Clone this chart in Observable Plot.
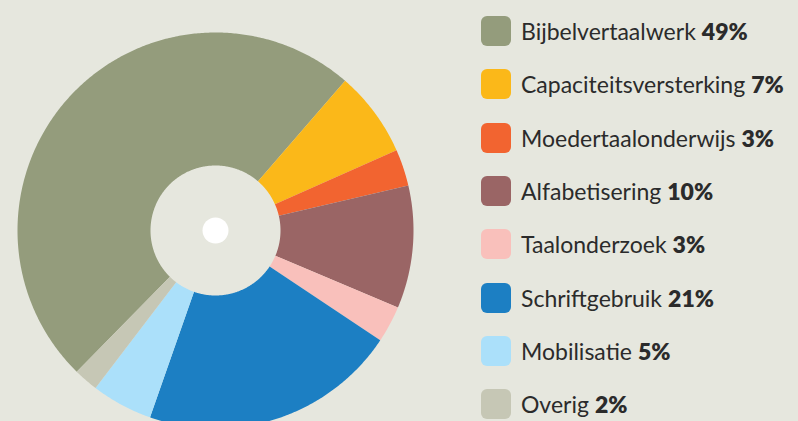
<!DOCTYPE html>
<html>
<head>
<meta charset="utf-8">
<script src="https://cdn.jsdelivr.net/npm/d3@7"></script>
<script src="https://cdn.jsdelivr.net/npm/@observablehq/plot@0.6"></script>
<style>
  html, body { margin: 0; padding: 0; background: #e6e7de; overflow: hidden; }
  #wrap { position: relative; width: 798px; height: 421px; overflow: hidden; background: #e6e7de; }
  #chart { position: absolute; left: 0; top: 0; }
  .item { position: absolute; left: 481px; height: 30px; display: flex; align-items: center; white-space: nowrap;
          font-family: Lato, "Noto Sans", sans-serif; font-size: 23px; color: #2b2b2b; }
  .sw { width: 30px; height: 30px; border-radius: 6px; margin-right: 10px; flex: none; }
  .item b { font-weight: 800; margin-left: 6px; }
</style>
</head>
<body>
<div id="wrap"><div id="chart"></div><div id="legend"></div></div>
<script>
const categories = ["Bijbelvertaalwerk", "Capaciteitsversterking", "Moedertaalonderwijs", "Alfabetisering", "Taalonderzoek", "Schriftgebruik", "Mobilisatie", "Overig"];
const values = [49, 7, 3, 10, 3, 21, 5, 2];
const colors = ["#949c7c", "#fbb819", "#f26430", "#9a6565", "#f9c0bb", "#1c7fc3", "#abe0fa", "#c6c7b5"];
const labels = ["49%", "7%", "3%", "10%", "3%", "21%", "5%", "2%"];

// geometry (style constants)
const startDeg = -135.5;
const innerR = 65 / 198;

const total = d3.sum(values);
const pts = [];
let acc = 0;
categories.forEach((cat, i) => {
  const a0 = (startDeg + acc / total * 360) * Math.PI / 180;
  acc += values[i];
  const a1 = (startDeg + acc / total * 360) * Math.PI / 180;
  const n = Math.max(2, Math.ceil((a1 - a0) / (Math.PI / 360)));
  for (let k = 0; k <= n; k++) {
    const a = a0 + (a1 - a0) * k / n;
    pts.push({cat, x: Math.sin(a), y: Math.cos(a)});
  }
  for (let k = n; k >= 0; k--) {
    const a = a0 + (a1 - a0) * k / n;
    pts.push({cat, x: innerR * Math.sin(a), y: innerR * Math.cos(a)});
  }
});
const center = [{x: 0, y: 0}];

const chart = Plot.plot({
  width: 440,
  height: 421,
  margin: 0,
  style: {background: "transparent", overflow: "visible"},
  x: {domain: [-1, 1], range: [17, 413], axis: null},
  y: {domain: [-1, 1], range: [428, 32], axis: null},
  color: {domain: categories, range: colors},
  marks: [
    Plot.line(pts, {x: "x", y: "y", z: "cat", fill: "cat", stroke: "none", curve: "linear-closed"}),
    Plot.dot(center, {x: "x", y: "y", r: 13, fill: "white", stroke: "none"})
  ]
});
document.getElementById("chart").appendChild(chart);

const legend = document.getElementById("legend");
categories.forEach((cat, i) => {
  const div = document.createElement("div");
  div.className = "item";
  div.style.top = (16 + i * 53.3) + "px";
  const sw = document.createElement("span");
  sw.className = "sw";
  sw.style.background = colors[i];
  div.appendChild(sw);
  div.appendChild(document.createTextNode(cat));
  const b = document.createElement("b");
  b.textContent = labels[i];
  div.appendChild(b);
  legend.appendChild(div);
});
</script>
</body>
</html>
